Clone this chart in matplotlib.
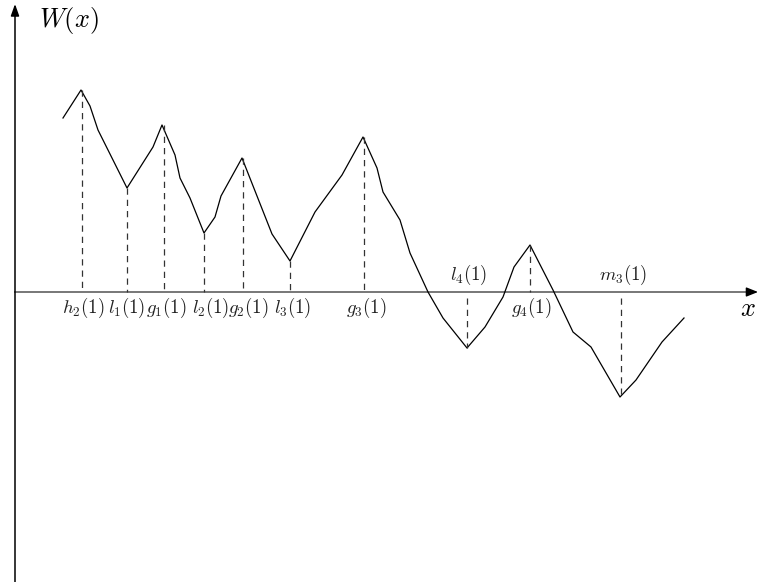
import matplotlib.pyplot as plt

plt.rcParams['mathtext.fontset'] = 'cm'

# path of W(x), origin at the crossing of the axes
path_x = [48, 66, 75, 83, 112, 138, 147, 160, 165, 175, 189, 200, 206, 227,
          257, 275, 300, 327, 348, 362, 368, 385, 395, 413, 428, 452, 470,
          488, 499, 515, 538, 558, 576, 605, 621, 647, 669]
path_w = [174, 202, 186, 162, 104, 145, 167, 137, 114, 94, 59, 75, 96, 134,
          58, 31, 80, 117, 155, 124, 100, 72, 39, 0, -26, -56, -35, -5, 25,
          47, 2, -40, -55, -105, -88, -50, -26]

# marked points: label, dash x, label x, W at the point, label above the axis?
mark_labels = ['$h_2(1)$', '$l_1(1)$', '$g_1(1)$', '$l_2(1)$', '$g_2(1)$',
               '$l_3(1)$', '$g_3(1)$', '$l_4(1)$', '$g_4(1)$', '$m_3(1)$']
mark_x = [67, 112, 149, 189, 228, 275, 349, 452, 515, 606]
label_x = [68, 112, 151, 196, 233, 278, 351, 454, 516, 608]
mark_w = [202, 104, 167, 59, 134, 31, 155, -56, 47, -105]
mark_above = [False, False, False, False, False, False, False, True, False, True]

fig = plt.figure(figsize=(7.59, 5.82), dpi=100)
ax = fig.add_axes([0, 0, 1, 1])
ax.set_xlim(-15, 744)
ax.set_ylim(-290, 292)
ax.axis('off')

# axes with arrow heads
ax.plot([0, 735], [0, 0], color='#777777', lw=1.4)
ax.annotate('', xy=(743, 0), xytext=(733, 0),
            arrowprops=dict(arrowstyle='-|>,head_length=0.7,head_width=0.28',
                            color='black', lw=1.0, shrinkA=0, shrinkB=0))
ax.annotate('', xy=(0, 288), xytext=(0, -292),
            arrowprops=dict(arrowstyle='-|>,head_length=0.7,head_width=0.25',
                            color='black', lw=1.1, shrinkA=0, shrinkB=0))

ax.plot(path_x, path_w, color='black', lw=0.9)

for lab, x, lx, w, above in zip(mark_labels, mark_x, label_x, mark_w, mark_above):
    if above:
        ax.plot([x, x], [-6, w], ls=(0, (5, 4)), color='#333333', lw=0.9)
        ax.text(lx, 5, lab, ha='center', va='bottom', fontsize=13.5, color='#222222')
    else:
        ax.plot([x, x], [w, 0], ls=(0, (5, 4)), color='#333333', lw=0.9)
        ax.text(lx, -4, lab, ha='center', va='top', fontsize=13.5, color='#222222')

ax.text(24, 271, '$W(x)$', ha='left', va='center', fontsize=19)
ax.text(733, -17, '$x$', ha='center', va='center', fontsize=19)

fig.savefig('out.png', dpi=100)
